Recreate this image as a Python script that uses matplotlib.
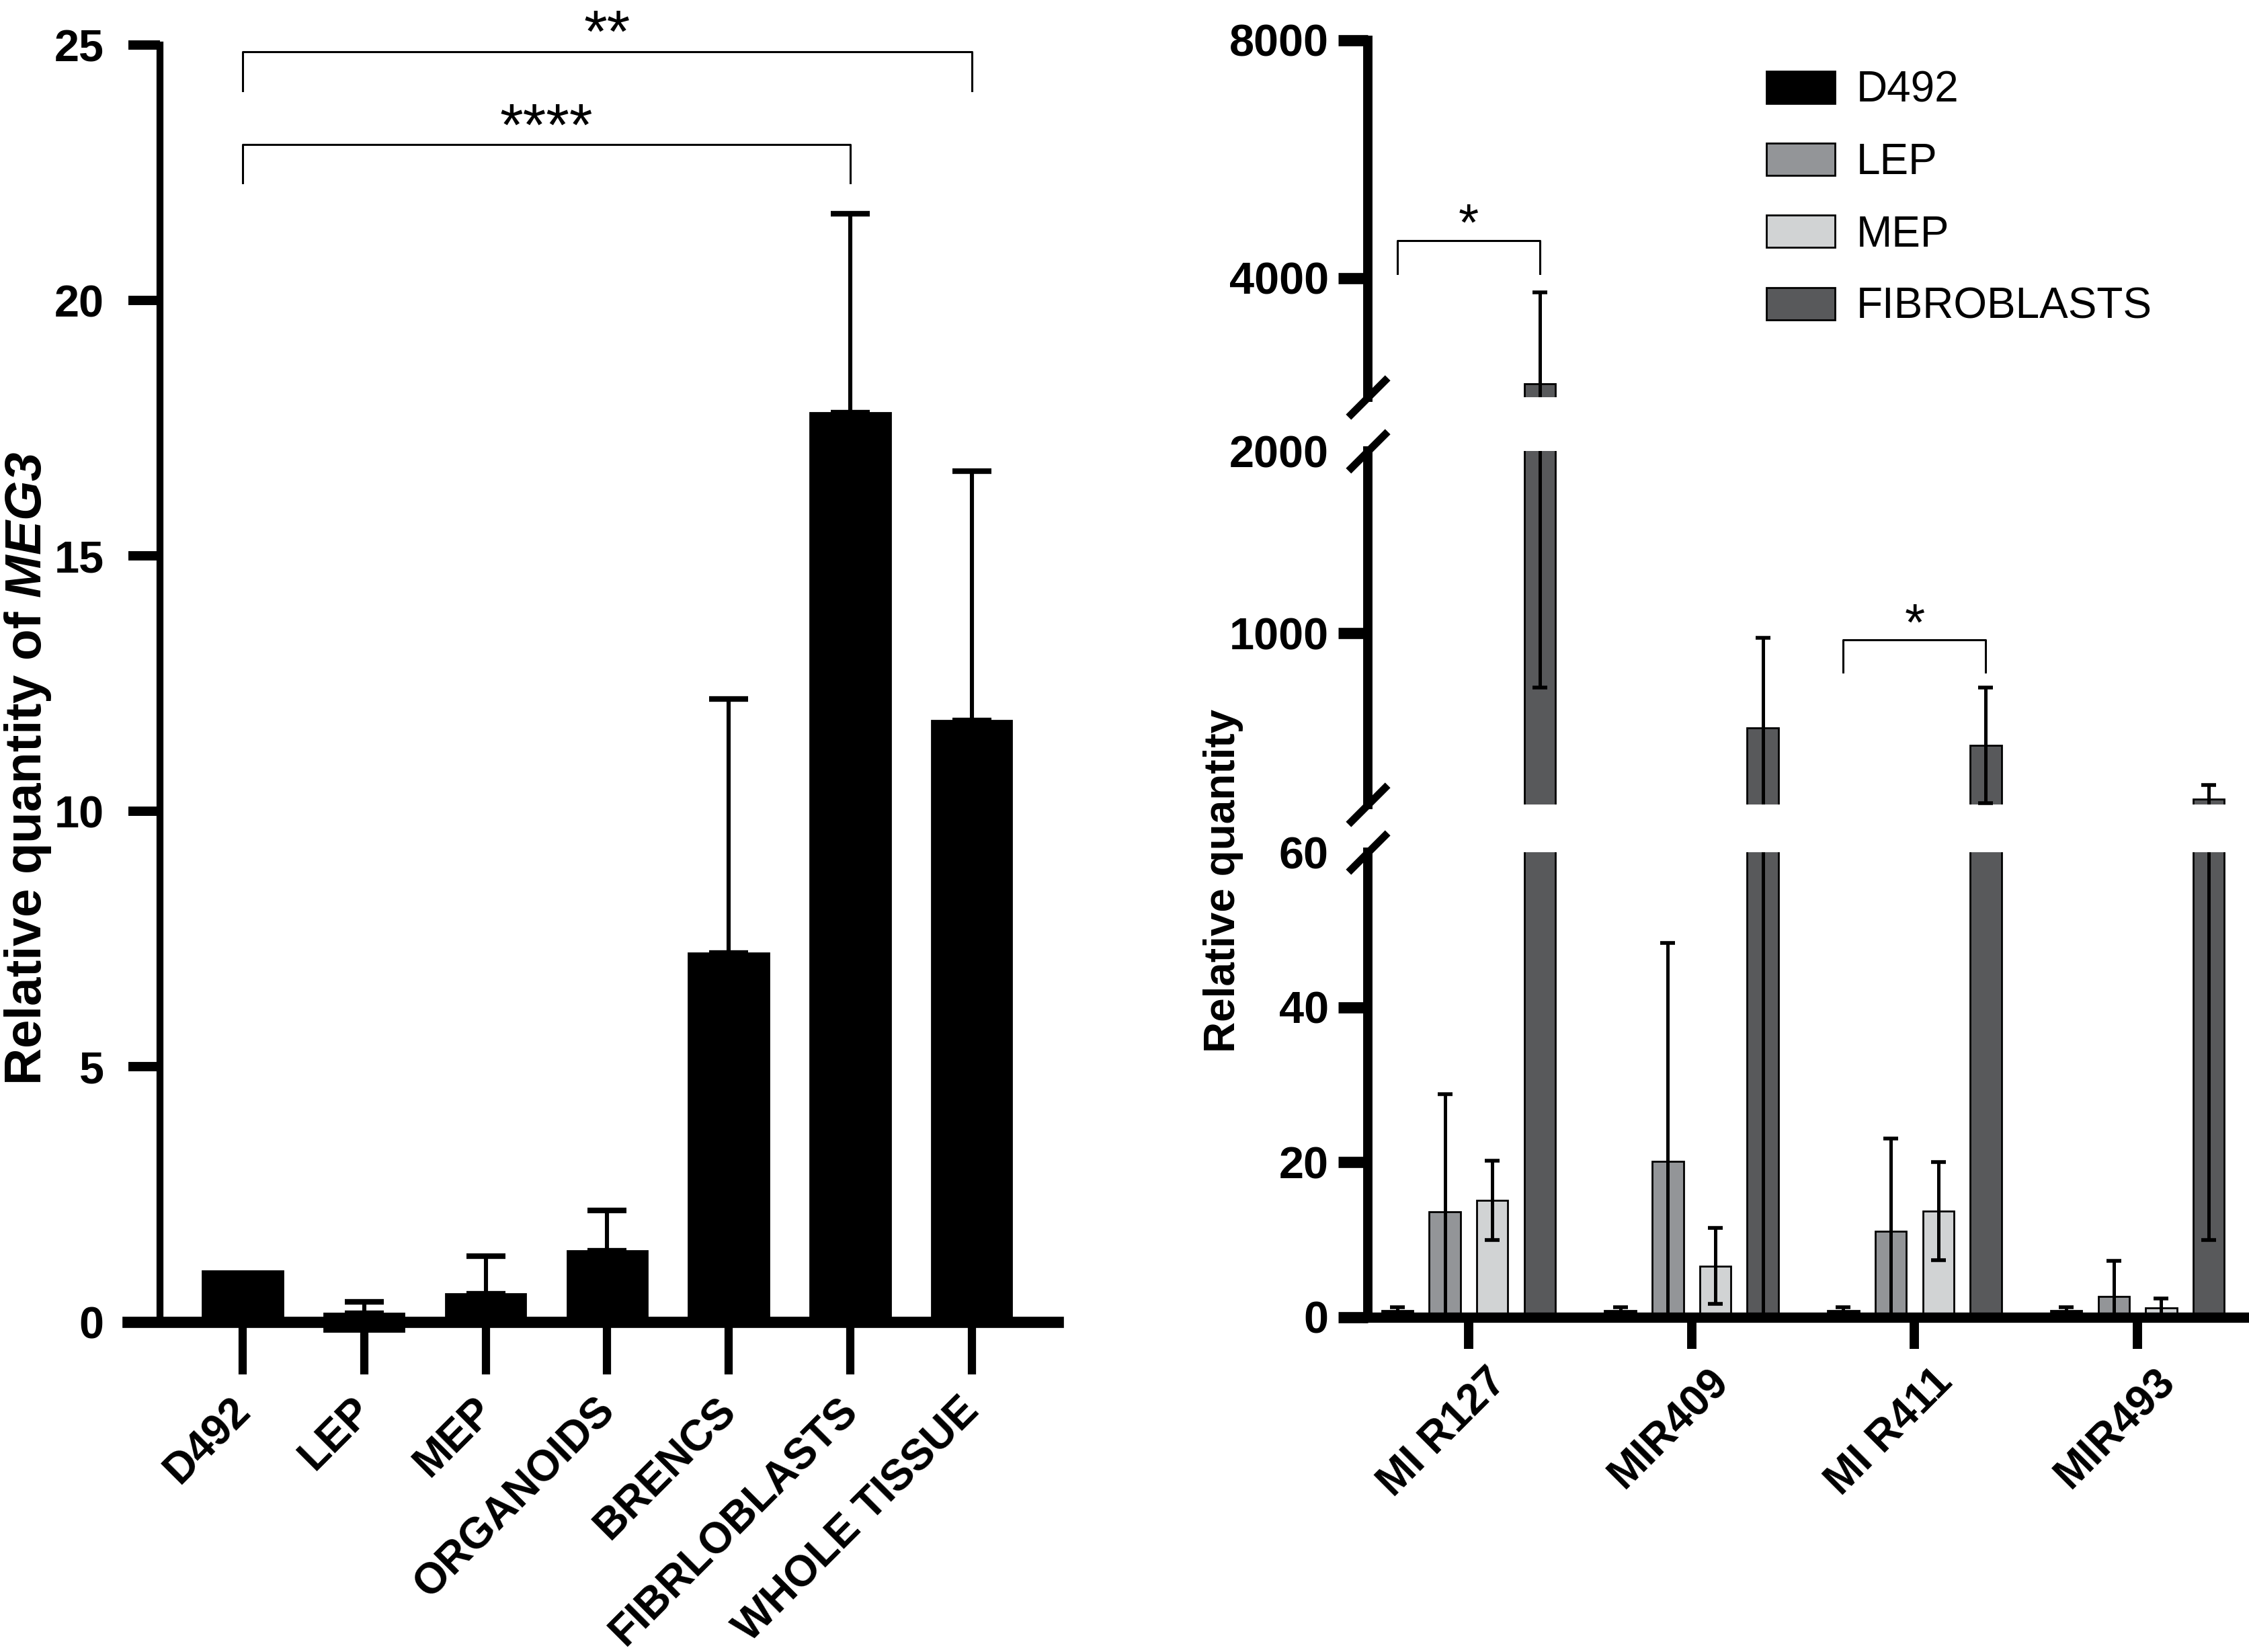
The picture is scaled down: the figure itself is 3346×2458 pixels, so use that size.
import numpy as np
import matplotlib.pyplot as plt
from matplotlib.patches import Patch
from matplotlib.transforms import ScaledTranslation

plt.rcParams['font.family'] = ['Liberation Sans', 'DejaVu Sans']
plt.rcParams['mathtext.fontset'] = 'custom'
plt.rcParams['mathtext.rm'] = 'Liberation Sans'
plt.rcParams['mathtext.bf'] = 'Liberation Sans:bold'
plt.rcParams['mathtext.it'] = 'Liberation Sans:italic'
plt.rcParams['mathtext.bfit'] = 'Liberation Sans:italic:bold'

# ---- left panel data (MEG3)
left_cats = ['D492', 'LEP', 'MEP', 'ORGANOIDS', 'BRENCS', 'FIBRLOBLASTS', 'WHOLE TISSUE']
left_mean = [1.0, 0.17, 0.55, 1.39, 7.22, 17.8, 11.77]
left_err = [0.0, 0.22, 0.74, 0.79, 4.98, 3.9, 4.89]
left_base = [0, -0.18, 0, 0, 0, 0, 0]

# ---- right panel data (miRNAs)
groups = ['MI R127', 'MIR409', 'MI R411', 'MIR493']
series = ['D492', 'LEP', 'MEP', 'FIBROBLASTS']
d492_mean = [0.9, 0.9, 0.9, 0.9]
d492_err = [0.4, 0.4, 0.4, 0.4]
lep_mean = [13.6, 20.1, 11.1, 2.7]
lep_err = [15.2, 28.2, 12.0, 4.6]
mep_mean = [15.1, 6.6, 13.7, 1.2]
mep_err = [5.1, 4.9, 6.3, 1.2]
fib_mean = [2230, 480, 385, 88]
fib_err = [1530, 495, 318, 78]
colors = ['#000000', '#939598', '#d1d3d4', '#58595b']

W, H = 3346, 2458
fig = plt.figure(figsize=(W / 200, H / 200), dpi=200)


def shift_labels(labels, dx_pt, dy_pt=0):
    off = ScaledTranslation(dx_pt / 72, dy_pt / 72, fig.dpi_scale_trans)
    for lab in labels:
        lab.set_transform(lab.get_transform() + off)


# ================= left panel
axL = fig.add_axes([190 / W, 1 - 1967 / H, (1574 - 190) / W, (1967 - 67) / H])
xl = np.arange(len(left_cats))
axL.bar(xl, np.array(left_mean) - np.array(left_base), 0.66, bottom=left_base,
        color='k', edgecolor='k', clip_on=False, zorder=2)
for i in range(len(xl)):
    if left_err[i] > 0:
        axL.errorbar(xl[i], left_mean[i], yerr=[[0], [left_err[i]]], fmt='none',
                     ecolor='k', elinewidth=2.2, capsize=10.5, capthick=3, zorder=1)
axL.set_xlim(-0.946, 6.71)
axL.set_ylim(0, 25)
axL.spines['left'].set_position(('data', -0.68))
axL.spines['bottom'].set_position(('data', 0))
axL.spines['top'].set_visible(False)
axL.spines['right'].set_visible(False)
axL.spines['left'].set_linewidth(3.7)
axL.spines['bottom'].set_linewidth(6)
axL.set_yticks([0, 5, 10, 15, 20, 25])
axL.tick_params(axis='y', direction='out', length=17, width=5, pad=13, labelsize=24)
axL.tick_params(axis='x', direction='out', length=28, width=4.4, pad=20.5, labelsize=23)
axL.set_xticks(xl)
axL.set_xticklabels(left_cats, rotation=45, ha='right', va='baseline', rotation_mode='anchor')
for lab in axL.get_xticklabels() + axL.get_yticklabels():
    lab.set_fontweight('bold')
shift_labels(axL.get_xticklabels(), 5)

# significance brackets
axL.plot([0, 0, 6, 6], [24.1, 24.87, 24.87, 24.1], color='k', lw=1.1, clip_on=False)
axL.text(3, 24.87, '**', ha='center', va='baseline', fontsize=32, clip_on=False)
axL.plot([0, 0, 5, 5], [22.3, 23.05, 23.05, 22.3], color='k', lw=1.1, clip_on=False)
axL.text(2.5, 23.05, '****', ha='center', va='baseline', fontsize=32)

fig.text(0.0125, 0.535, r'Relative quantity of $\mathbfit{MEG3}$', rotation=90,
         ha='center', va='center', fontsize=27.5, fontweight='bold')

# ================= right panel (broken axis)
x0 = 2035 / W
wR = (W - 2035) / W
axB = fig.add_axes([x0, 1 - 1960 / H, wR, (1960 - 1268) / H])
axM = fig.add_axes([x0, 1 - 1197 / H, wR, (1197 - 671) / H])
axT = fig.add_axes([x0, 1 - 591 / H, wR, (591 - 60) / H])

xg = np.arange(len(groups))
step = 0.213
bw = 0.14
means = [d492_mean, lep_mean, mep_mean, fib_mean]
errs = [d492_err, lep_err, mep_err, fib_err]

for ax in [axB, axM, axT]:
    # only the fibroblast series reaches the upper segments
    ks = range(4) if ax is axB else [3]
    for k in ks:
        xs = xg + (k - 1.5) * step
        ax.bar(xs, means[k], bw, color=colors[k], edgecolor='k', linewidth=1, zorder=2)
        ax.errorbar(xs, means[k], yerr=errs[k], fmt='none', ecolor='k',
                    elinewidth=1.8, capsize=4, capthick=2, zorder=3)
    ax.set_xlim(-0.452, 3.50)
    ax.spines['top'].set_visible(False)
    ax.spines['right'].set_visible(False)
    ax.spines['left'].set_linewidth(5)
    ax.tick_params(axis='y', direction='out', length=16, width=6, pad=5, labelsize=24)

axB.set_ylim(0, 60)
axB.set_yticks([0, 20, 40, 60])
axB.yaxis.get_major_ticks()[3].tick1line.set_visible(False)
axB.spines['bottom'].set_linewidth(5.5)
axB.set_xticks(xg)
axB.set_xticklabels(groups, rotation=45, ha='right', va='baseline', rotation_mode='anchor')
axB.tick_params(axis='x', direction='out', length=17, width=5, pad=18.4, labelsize=23)
shift_labels(axB.get_xticklabels(), 21)

axM.set_ylim(60, 2000)
axM.set_yticks([1000, 2000])
axM.yaxis.get_major_ticks()[1].tick1line.set_visible(False)

axT.set_ylim(2000, 8000)
axT.set_yticks([4000, 8000])

for ax in [axM, axT]:
    ax.spines['bottom'].set_visible(False)
    ax.set_xticks([])

for ax in [axB, axM, axT]:
    for lab in ax.get_xticklabels() + ax.get_yticklabels():
        lab.set_fontweight('bold')

# break marks
for ax, yy in [(axB, 1), (axM, 0), (axM, 1), (axT, 0)]:
    ax.plot([0], [yy], transform=ax.transAxes, marker=[(-1, -1), (1, 1)], ms=21,
            mew=4, color='k', ls='none', clip_on=False)

# significance brackets
axT.plot([0 - 1.5 * step, 0 - 1.5 * step, 0 + 1.5 * step, 0 + 1.5 * step],
         [4080, 4633, 4633, 4080], color='k', lw=1.1)
axT.text(0, 4633, '*', ha='center', va='baseline', fontsize=28)
axM.plot([2 - 1.5 * step, 2 - 1.5 * step, 2 + 1.5 * step, 2 + 1.5 * step],
         [786, 963, 963, 786], color='k', lw=1.1)
axM.text(2, 963, '*', ha='center', va='baseline', fontsize=28)

fig.text(0.544, 0.467, 'Relative quantity', rotation=90, ha='center', va='center',
         fontsize=23, fontweight='bold')

handles = [Patch(facecolor=c, edgecolor='k', linewidth=1) for c in colors]
fig.legend(handles, series, loc='upper left', bbox_to_anchor=(2628 / W, 1 - 105 / H),
           frameon=False, fontsize=23, handlelength=1.6, handleheight=0.78,
           handletextpad=0.5, labelspacing=0.74, borderpad=0, borderaxespad=0)

fig.savefig('out.png', dpi=200)
